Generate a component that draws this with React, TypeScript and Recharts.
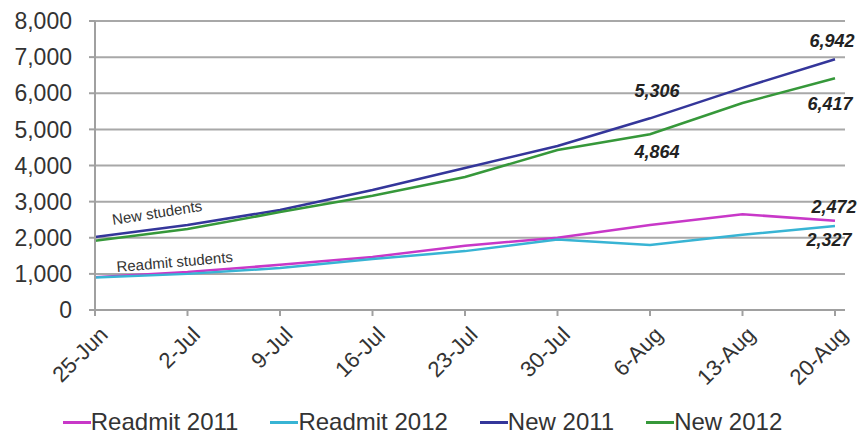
import React from 'react';
import { LineChart, Line, XAxis, YAxis, CartesianGrid, Legend } from 'recharts';

const categories = ['25-Jun', '2-Jul', '9-Jul', '16-Jul', '23-Jul', '30-Jul', '6-Aug', '13-Aug', '20-Aug'];
const readmit2011 = [910, 1050, 1250, 1470, 1780, 2000, 2350, 2650, 2472];
const readmit2012 = [900, 1000, 1160, 1410, 1630, 1950, 1800, 2080, 2327];
const new2011 = [2020, 2350, 2770, 3320, 3930, 4540, 5306, 6150, 6942];
const new2012 = [1920, 2240, 2710, 3160, 3680, 4430, 4864, 5730, 6417];
const yTicks = [0, 1000, 2000, 3000, 4000, 5000, 6000, 7000, 8000];

const data = categories.map((name, i) => ({
  name,
  readmit2011: readmit2011[i],
  readmit2012: readmit2012[i],
  new2011: new2011[i],
  new2012: new2012[i],
}));

const FONT = '"Liberation Sans", Arial, sans-serif';

const series = [
  { key: 'readmit2011', name: 'Readmit 2011', color: '#C838C8' },
  { key: 'readmit2012', name: 'Readmit 2012', color: '#38B4D4' },
  { key: 'new2011', name: 'New 2011', color: '#34369A' },
  { key: 'new2012', name: 'New 2012', color: '#36983A' },
];

const fmt = (v: number) => v.toLocaleString('en-US');

// value labels: index -> [dx, dy] relative to the point
const makeLabel = (spots: Record<number, [number, number]>, note?: { text: string; dx: number; dy: number; angle: number }) =>
  (props: any) => {
    const { x, y, index, value } = props;
    if (index === 0 && note) {
      return (
        <text
          key={`note-${index}`}
          x={x + note.dx}
          y={y + note.dy}
          fontSize={15}
          fontFamily={FONT}
          fill="#333"
          transform={`rotate(${note.angle}, ${x + note.dx}, ${y + note.dy})`}
        >
          {note.text}
        </text>
      );
    }
    const s = spots[index];
    if (!s) return null;
    return (
      <text
        key={`lbl-${index}`}
        x={x + s[0]}
        y={y + s[1]}
        textAnchor="middle"
        fontSize={18}
        fontWeight="bold"
        fontStyle="italic"
        fontFamily={FONT}
        fill="#222"
      >
        {fmt(value)}
      </text>
    );
  };

const LegendContent = () => (
  <div style={{ display: 'flex', justifyContent: 'center', gap: 32, paddingTop: 12, fontFamily: FONT, fontSize: 24, color: '#333' }}>
    {series.map((s) => (
      <div key={s.key} style={{ display: 'flex', alignItems: 'center' }}>
        <span style={{ display: 'inline-block', width: 28, height: 3, background: s.color }} />
        <span>{s.name}</span>
      </div>
    ))}
  </div>
);

export default function App() {
  return (
    <div style={{ position: 'absolute', left: 0, top: 0, width: 860, height: 436, background: '#fff' }}>
      <LineChart width={860} height={436} data={data} margin={{ top: 21, right: 15, left: 0, bottom: 0 }}>
        <CartesianGrid vertical={false} stroke="#A8A8A8" strokeWidth={2} />
        <XAxis
          dataKey="name"
          interval={0}
          padding={{ left: 0, right: 10 }}
          height={86}
          stroke="#A0A0A0"
          strokeWidth={2}
          tickSize={6}
          tickMargin={9}
          angle={-45}
          textAnchor="end"
          dx={3}
          tick={{ fill: '#333', fontSize: 22, fontFamily: FONT }}
        />
        <YAxis
          domain={[0, 8000]}
          ticks={yTicks}
          tickFormatter={fmt}
          width={95}
          stroke="#A0A0A0"
          strokeWidth={2}
          tickSize={6}
          tickMargin={17}
          tick={{ fill: '#333', fontSize: 23, fontFamily: FONT }}
        />
        <Legend verticalAlign="bottom" height={40} content={<LegendContent />} />
        <Line
          dataKey="readmit2011"
          name="Readmit 2011"
          stroke="#C838C8"
          strokeWidth={2.5}
          dot={false}
          isAnimationActive={false}
          label={makeLabel({ 8: [-1, -8] }, { text: 'Readmit  students', dx: 22, dy: -5, angle: -5 })}
        />
        <Line
          dataKey="readmit2012"
          name="Readmit 2012"
          stroke="#38B4D4"
          strokeWidth={2.5}
          dot={false}
          isAnimationActive={false}
          label={makeLabel({ 8: [-6, 20] })}
        />
        <Line
          dataKey="new2011"
          name="New 2011"
          stroke="#34369A"
          strokeWidth={2.5}
          dot={false}
          isAnimationActive={false}
          label={makeLabel({ 6: [7, -21], 8: [-3, -12] }, { text: 'New students', dx: 18, dy: -12, angle: -9 })}
        />
        <Line
          dataKey="new2012"
          name="New 2012"
          stroke="#36983A"
          strokeWidth={2.5}
          dot={false}
          isAnimationActive={false}
          label={makeLabel({ 6: [7, 24], 8: [-5, 32] })}
        />
      </LineChart>
    </div>
  );
}
